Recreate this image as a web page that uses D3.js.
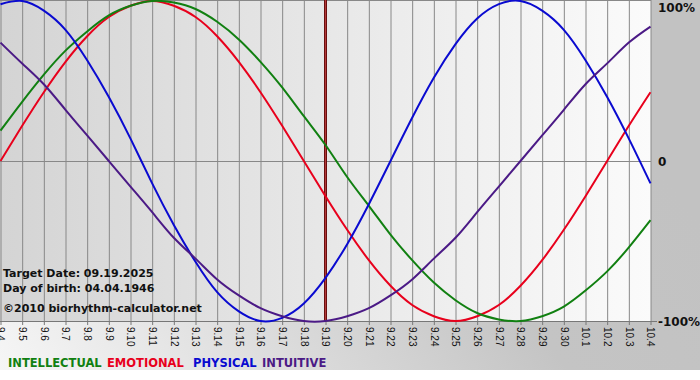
<!DOCTYPE html>
<html>
<head>
<meta charset="utf-8">
<script src="https://cdn.jsdelivr.net/npm/d3@7.9.0/dist/d3.min.js"></script>
<style>
  body { margin: 0; background: #fff; }
  svg { display: block; }
</style>
</head>
<body>
<svg width="700" height="380"></svg>
<script>
// days shown on the chart
const days = ['9.4','9.5','9.6','9.7','9.8','9.9','9.10','9.11','9.12','9.13','9.14','9.15',
  '9.16','9.17','9.18','9.19','9.20','9.21','9.22','9.23','9.24','9.25','9.26','9.27','9.28',
  '9.29','9.30','10.1','10.2','10.3','10.4'];

// values in percent, one per day
const physical = [98,100,94,82,63,40,14,-14,-40,-63,-82,-94,-100,-98,-89,-73,-52,-27,0,27,52,73,89,98,100,94,82,63,40,14,-14];
const emotional = [0,22,43,62,78,90,97,100,97,90,78,62,43,22,0,-22,-43,-62,-78,-90,-97,-100,-97,-90,-78,-62,-43,-22,0,22,43];
const intellectual = [19,37,54,69,81,91,97,100,99,95,87,76,62,46,28,10,-10,-28,-46,-62,-76,-87,-95,-99,-100,-97,-91,-81,-69,-54,-37];
const intuitive = [74,61,48,32,16,0,-16,-32,-48,-61,-74,-84,-92,-97,-100,-100,-97,-92,-84,-74,-61,-48,-32,-16,0,16,32,48,61,74,84];

const targetDay = '9.19';
const yTicks = [100, 0, -100];
const legendItems = [
  { name: 'INTELLECTUAL', color: '#118011', x: 8 },
  { name: 'EMOTIONAL', color: '#e8001c', x: 107 },
  { name: 'PHYSICAL', color: '#0a0ad0', x: 193 },
  { name: 'INTUITIVE', color: '#4b1a86', x: 262 }
];

const W = 651, H = 321;
const svg = d3.select('svg');
const defs = svg.append('defs');

let frameGrad = defs.append('linearGradient').attr('id', 'frameGrad')
  .attr('x1', 0).attr('y1', 1).attr('x2', 1).attr('y2', 0.6);
frameGrad.append('stop').attr('offset', 0).attr('stop-color', '#f6f6f6');
frameGrad.append('stop').attr('offset', 0.7).attr('stop-color', '#c4c4c4');
frameGrad.append('stop').attr('offset', 1).attr('stop-color', '#c2c2c2');

let plotGrad = defs.append('linearGradient').attr('id', 'plotGrad')
  .attr('x1', 0).attr('y1', 0).attr('x2', 1).attr('y2', 0);
plotGrad.append('stop').attr('offset', 0).attr('stop-color', '#d4d4d4');
plotGrad.append('stop').attr('offset', 1).attr('stop-color', '#fbfbfb');

// backgrounds
svg.append('rect').attr('width', 700).attr('height', 370).attr('fill', 'url(#frameGrad)');
svg.append('rect').attr('width', W).attr('height', H).attr('fill', 'url(#plotGrad)');

const x = d3.scalePoint().domain(days).range([0.5, W - 0.5]);
const y = d3.scaleLinear().domain([-100, 100]).range([H, 1]);

// vertical grid
svg.append('g')
  .attr('transform', `translate(0,${H})`)
  .call(d3.axisBottom(x).tickSize(-H).tickFormat(''))
  .call(g => g.select('.domain').remove())
  .call(g => g.selectAll('line').attr('stroke', '#888'));

// top and zero lines
svg.append('line').attr('x1', 0).attr('x2', W).attr('y1', 0.5).attr('y2', 0.5).attr('stroke', '#888');
svg.append('line').attr('x1', 0).attr('x2', W).attr('y1', Math.round(y(0)) + 0.5).attr('y2', Math.round(y(0)) + 0.5).attr('stroke', '#888');

// bottom axis with rotated date labels
svg.append('g')
  .attr('transform', `translate(0,${H})`)
  .call(d3.axisBottom(x).tickSize(4).tickSizeOuter(0))
  .call(g => g.select('.domain').attr('stroke', '#777').attr('d', `M0,0.5H${W + 6}`))
  .call(g => g.selectAll('line').attr('stroke', '#777'))
  .call(g => g.selectAll('text')
    .attr('transform', 'rotate(90)')
    .attr('x', 6).attr('y', 0).attr('dy', '0.36em')
    .style('text-anchor', 'start')
    .attr('fill', '#111')
    .style('font-family', 'Liberation Sans, Arial, sans-serif')
    .style('font-size', '10px'));

// right axis labels
svg.append('g')
  .attr('transform', `translate(${W},0)`)
  .call(d3.axisRight(y).tickValues(yTicks).tickSize(0).tickPadding(7)
    .tickFormat(d => d === 0 ? '0' : d + '%'))
  .call(g => g.select('.domain').remove())
  .call(g => g.selectAll('text')
    .attr('dy', d => d === 100 ? '0.9em' : '0.35em')
    .attr('fill', '#111')
    .style('font-family', 'DejaVu Sans, Verdana, sans-serif')
    .style('font-weight', 'bold')
    .style('font-size', '12px'));

// target day marker
const tx = x(targetDay);
svg.append('line').attr('x1', tx).attr('x2', tx).attr('y1', 0).attr('y2', H)
  .attr('stroke', '#6a0e0e').attr('stroke-width', 3);
svg.append('line').attr('x1', tx).attr('x2', tx).attr('y1', 0).attr('y2', H)
  .attr('stroke', '#b23a3a').attr('stroke-width', 1);

// curves
const line = d3.line()
  .x((d, i) => x(days[i]))
  .y(d => y(d))
  .curve(d3.curveNatural);

const series = [
  { values: emotional, color: '#e8001c' },
  { values: intellectual, color: '#118011' },
  { values: physical, color: '#0a0ad0' },
  { values: intuitive, color: '#4b1a86' }
];
series.forEach(s => {
  svg.append('path')
    .attr('d', line(s.values))
    .attr('fill', 'none')
    .attr('stroke', s.color)
    .attr('stroke-width', 2);
});

// info text
const info = ['Target Date: 09.19.2025', 'Day of birth: 04.04.1946', '\u00a92010 biorhythm-calculator.net'];
const infoY = [277, 292, 312];
info.forEach((t, i) => {
  svg.append('text')
    .attr('x', 3).attr('y', infoY[i])
    .attr('fill', '#111')
    .style('font-family', 'DejaVu Sans, Verdana, sans-serif')
    .style('font-weight', 'bold')
    .style('font-size', '11px')
    .text(t);
});

// legend
legendItems.forEach(d => {
  svg.append('text')
    .attr('x', d.x).attr('y', 367)
    .attr('fill', d.color)
    .style('font-family', 'DejaVu Sans, Verdana, sans-serif')
    .style('font-weight', 'bold')
    .style('font-size', '11.5px')
    .text(d.name);
});
</script>
</body>
</html>
